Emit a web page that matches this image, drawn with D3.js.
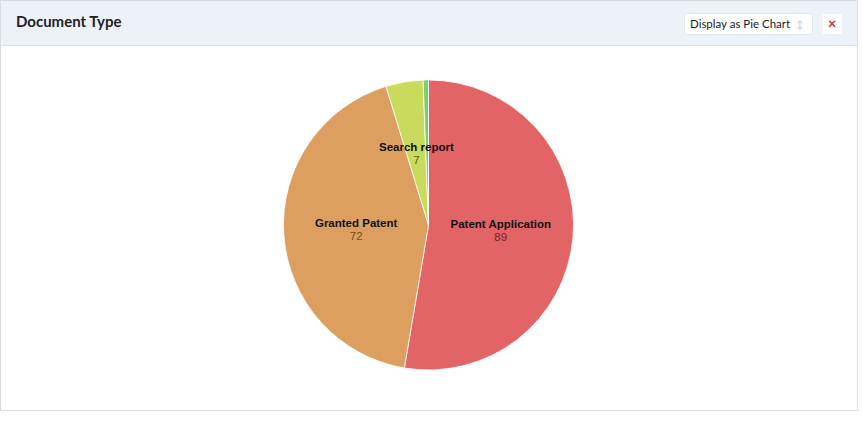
<!DOCTYPE html>
<html>
<head>
<meta charset="utf-8">
<script src="https://cdn.jsdelivr.net/npm/d3@7"></script>
<style>
  body { margin: 0; background: #fff; font-family: Lato, "Open Sans", sans-serif; }
</style>
</head>
<body>
<div id="chart"></div>
<script>
// data
var categories = ["Patent Application", "Granted Patent", "Search report", "Other"];
var counts = [89, 72, 7, 1];
var colours = ["#e26467", "#dc9f5f", "#c9da5c", "#78d06a"];
var valueColours = ["#7a2226", "#7a4a18", "#5a6418", "#2f6a26"];

var total_width = 862, total_height = 431;

var svg = d3.select("#chart").append("svg")
    .attr("width", total_width)
    .attr("height", total_height);

// panel
svg.append("rect")
    .attr("x", 0.5).attr("y", 0.5)
    .attr("width", 857).attr("height", 410)
    .attr("fill", "#fff")
    .attr("stroke", "#d9dde3");

svg.append("rect")
    .attr("x", 1).attr("y", 1)
    .attr("width", 856).attr("height", 44)
    .attr("fill", "#edf1f8");

svg.append("line")
    .attr("x1", 1).attr("x2", 857)
    .attr("y1", 45.5).attr("y2", 45.5)
    .attr("stroke", "#dde2ea");

svg.append("text")
    .attr("x", 16).attr("y", 27)
    .attr("font-family", "Lato, sans-serif")
    .attr("font-size", 15)
    .attr("font-weight", "bold")
    .attr("fill", "#222")
    .text("Document Type");

// select box
svg.append("rect")
    .attr("x", 684.5).attr("y", 13.5)
    .attr("width", 128).attr("height", 21)
    .attr("rx", 2)
    .attr("fill", "#fff")
    .attr("stroke", "#e3e6ea");

svg.append("text")
    .attr("x", 690).attr("y", 28)
    .attr("font-family", "Lato, sans-serif")
    .attr("font-size", 11.5)
    .attr("fill", "#222")
    .text("Display as Pie Chart");

svg.append("text")
    .attr("x", 800).attr("y", 28)
    .attr("font-size", 10)
    .attr("text-anchor", "middle")
    .attr("fill", "#c8c8cc")
    .text("\u2195");

// close button
svg.append("rect")
    .attr("x", 822.5).attr("y", 13.5)
    .attr("width", 20).attr("height", 21)
    .attr("fill", "#fff")
    .attr("stroke", "#eef0f2");

svg.append("text")
    .attr("x", 832).attr("y", 28.5)
    .attr("font-size", 15)
    .attr("font-weight", "bold")
    .attr("text-anchor", "middle")
    .attr("fill", "#d0303e")
    .text("\u00d7");

// pie
var radius = 145;
var pie_g = svg.append("g")
    .attr("transform", "translate(" + 428.5 + "," + 225 + ")");

var data = categories.map(function(c, i) { return {name: c, value: counts[i], i: i}; });

var pie = d3.pie()
    .value(function(d) { return d.value; })
    .sort(null);

var arc = d3.arc().innerRadius(0).outerRadius(radius);
var labelArc = d3.arc().innerRadius(radius / 2).outerRadius(radius / 2);

var arcs = pie(data);

pie_g.selectAll("path.slice")
    .data(arcs)
    .enter()
    .append("path")
        .attr("class", "slice")
        .attr("d", arc)
        .attr("fill", function(d) { return colours[d.data.i]; })
        .attr("stroke", "#fff")
        .attr("stroke-width", 0.8);

var labels = pie_g.selectAll("g.label")
    .data(arcs.filter(function(d) { return d.data.value > 3; }))
    .enter()
    .append("g")
        .attr("class", "label")
        .attr("transform", function(d) { return "translate(" + labelArc.centroid(d) + ")"; });

labels.append("text")
    .attr("y", -3)
    .attr("text-anchor", "middle")
    .attr("font-family", "Liberation Sans, Arial, sans-serif")
    .attr("font-size", 11.5)
    .attr("font-weight", "bold")
    .attr("fill", "#111")
    .text(function(d) { return d.data.name; });

labels.append("text")
    .attr("y", 10)
    .attr("text-anchor", "middle")
    .attr("font-family", "Liberation Sans, Arial, sans-serif")
    .attr("font-size", 11.5)
    .attr("fill", function(d) { return valueColours[d.data.i]; })
    .text(function(d) { return d.data.value; });
</script>
</body>
</html>
